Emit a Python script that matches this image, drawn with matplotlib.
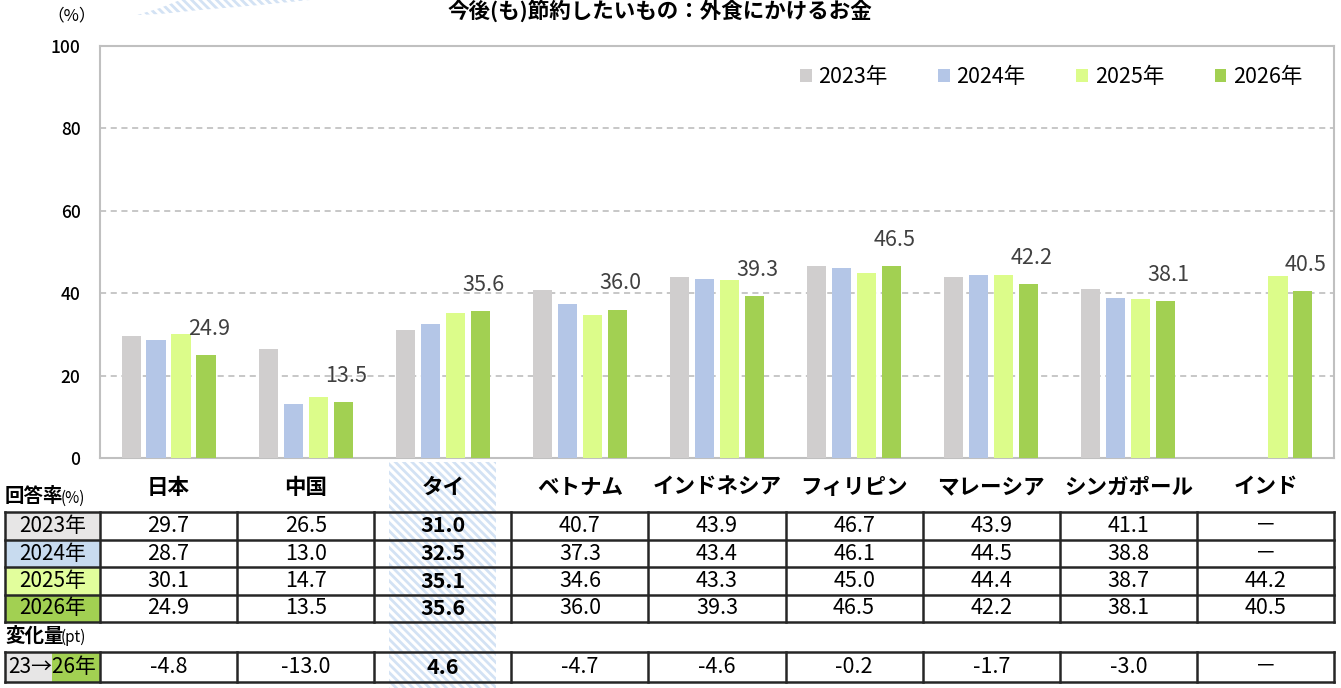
import numpy as np
import matplotlib
matplotlib.use("Agg")
import matplotlib.pyplot as plt
import matplotlib.transforms as mtransforms
from matplotlib.patches import Patch, Rectangle, Polygon

plt.rcParams['font.family'] = ['Noto Sans CJK JP', 'DejaVu Sans']
plt.rcParams['hatch.linewidth'] = 2.0

title = "今後(も)節約したいもの：外食にかけるお金"
countries = ["日本", "中国", "タイ", "ベトナム", "インドネシア", "フィリピン",
             "マレーシア", "シンガポール", "インド"]
years = ["2023年", "2024年", "2025年", "2026年"]
v2023 = [29.7, 26.5, 31.0, 40.7, 43.9, 46.7, 43.9, 41.1, np.nan]
v2024 = [28.7, 13.0, 32.5, 37.3, 43.4, 46.1, 44.5, 38.8, np.nan]
v2025 = [30.1, 14.7, 35.1, 34.6, 43.3, 45.0, 44.4, 38.7, 44.2]
v2026 = [24.9, 13.5, 35.6, 36.0, 39.3, 46.5, 42.2, 38.1, 40.5]
change = [-4.8, -13.0, 4.6, -4.7, -4.6, -0.2, -1.7, -3.0, np.nan]
highlight = "タイ"

bar_colors = ["#d0cece", "#b4c6e7", "#dcfc8a", "#a2d052"]
cell_colors = ["#e7e6e6", "#c8dbef", "#e2fe9c", "#a2d052"]
hatch_color = "#d3e2f4"

W, H = 1341, 688
fig = plt.figure(figsize=(W / 100, H / 100), dpi=100)

# main chart area (pixel box 100..1334 x 46..458)
ax = fig.add_axes([100 / W, (H - 458) / H, 1234 / W, 412 / H])
# overlay in pixel units for the table and decorations
ov = fig.add_axes([0, 0, 1, 1], zorder=-1)
ov.set_xlim(0, W)
ov.set_ylim(H, 0)
ov.axis("off")

series = [v2023, v2024, v2025, v2026]
x = np.arange(len(countries))
bw = 0.14
step = 0.182
for k, (vals, c, lab) in enumerate(zip(series, bar_colors, years)):
    ax.bar(x + (k - 1.5) * step, vals, width=bw, color=c, label=lab, zorder=3)

for xi, v in zip(x, v2026):
    ax.annotate(f"{v:.1f}", (xi + 1.5 * step, v), xytext=(2, 11),
                textcoords="offset points", ha="center", va="bottom",
                fontsize=15.5, color="#404040", zorder=4)

ax.set_xlim(-0.5, len(countries) - 0.5)
ax.set_ylim(0, 100)
ax.set_yticks(range(0, 101, 20))
ax.set_xticks([])
ax.tick_params(axis="y", length=0, pad=14, labelsize=12.5)
for lbl in ax.get_yticklabels():
    lbl.set_fontweight("medium")
ax.grid(axis="y", linestyle=(0, (4, 3)), color="#b8b8b8", linewidth=1.1, zorder=0)
for s in ax.spines.values():
    s.set_color("#c0c0c0")
    s.set_linewidth(1.5)

handles = [Patch(facecolor=c, label=l) for c, l in zip(bar_colors, years)]
ax.legend(handles=handles, ncol=4, loc="center right",
          bbox_to_anchor=(0.99, 0.925), frameon=False, fontsize=15.5,
          handlelength=0.55, handleheight=0.55, handletextpad=0.3,
          columnspacing=2.35)

fig.text(0.492, 1 - 11 / H, title, ha="center", va="center",
         fontsize=15.5, fontweight="bold")
fig.text(72 / W, 1 - 16 / H, "（%）", ha="center", va="center", fontsize=12)

# decorative hatched swoosh at top-left
swoosh = Polygon([(137, 15), (160, 8), (180, 0), (310, 0), (260, 5),
                  (200, 10), (160, 14)], closed=True, facecolor="none",
                 edgecolor=hatch_color, hatch="\\\\\\\\", linewidth=0)
ov.add_patch(swoosh)

# table: x in category units, y in pixels
tr = mtransforms.blended_transform_factory(ax.transData, ov.transData)
hi = countries.index(highlight)
ov.add_patch(Rectangle((hi - 0.39, 462), 0.78, 230, transform=tr,
                       facecolor="none", edgecolor=hatch_color,
                       hatch="\\\\\\\\", linewidth=0, zorder=0))

x0 = -1.193
xl = -0.5
xr = len(countries) - 0.5
rows_y = [512, 540, 567, 595, 622]
chg_y = [652, 682]
line_kw = dict(color="#262626", linewidth=1.8, transform=tr, zorder=3,
               clip_on=False)

for i, name in enumerate(countries):
    ov.text(i, 487, name, transform=tr, ha="center", va="center",
            fontsize=15.5, fontweight="bold")

ov.text(5, 497, "回答率", ha="left", va="center", fontsize=14,
        fontweight="bold")
ov.text(61, 498, "(%)", ha="left", va="center", fontsize=11)
ov.text(5, 636, "変化量", ha="left", va="center", fontsize=14,
        fontweight="bold")
ov.text(61, 637, "(pt)", ha="left", va="center", fontsize=11)

# year label cells
for r, (lab, cc) in enumerate(zip(years, cell_colors)):
    y_top, y_bot = rows_y[r], rows_y[r + 1]
    ov.add_patch(Rectangle((x0, y_top), xl - x0, y_bot - y_top,
                           transform=tr, facecolor=cc, edgecolor="none",
                           zorder=1))
    ov.text((x0 + xl) / 2, (y_top + y_bot) / 2, lab, transform=tr,
            ha="center", va="center", fontsize=15, zorder=4)

# change label cell (gray -> green)
xm = x0 + (xl - x0) * 0.50
ov.add_patch(Rectangle((x0, chg_y[0]), xm - x0, chg_y[1] - chg_y[0],
                       transform=tr, facecolor=cell_colors[0],
                       edgecolor="none", zorder=1))
ov.add_patch(Rectangle((xm, chg_y[0]), xl - xm, chg_y[1] - chg_y[0],
                       transform=tr, facecolor=cell_colors[3],
                       edgecolor="none", zorder=1))
ov.text((x0 + xl) / 2, (chg_y[0] + chg_y[1]) / 2, "23→26年", transform=tr,
        ha="center", va="center", fontsize=15, zorder=4)

def fmt(v):
    return "－" if np.isnan(v) else f"{v:.1f}"

for r, vals in enumerate(series):
    yc = (rows_y[r] + rows_y[r + 1]) / 2
    for i, v in enumerate(vals):
        ov.text(i, yc, fmt(v), transform=tr, ha="center", va="center",
                fontsize=15.5, fontweight="bold" if i == hi else "normal",
                zorder=4)
yc = (chg_y[0] + chg_y[1]) / 2
for i, v in enumerate(change):
    ov.text(i, yc, fmt(v), transform=tr, ha="center", va="center",
            fontsize=15.5, fontweight="bold" if i == hi else "normal", zorder=4)

# grid lines of the table
for y in rows_y:
    ov.plot([x0, xr], [y, y], **line_kw)
for y in chg_y:
    ov.plot([x0, xr], [y, y], **line_kw)
for xb in [x0, xl] + [i + 0.5 for i in range(len(countries))]:
    ov.plot([xb, xb], [rows_y[0], rows_y[-1]], **line_kw)
    ov.plot([xb, xb], [chg_y[0], chg_y[1]], **line_kw)

fig.savefig("out.png", dpi=100)
